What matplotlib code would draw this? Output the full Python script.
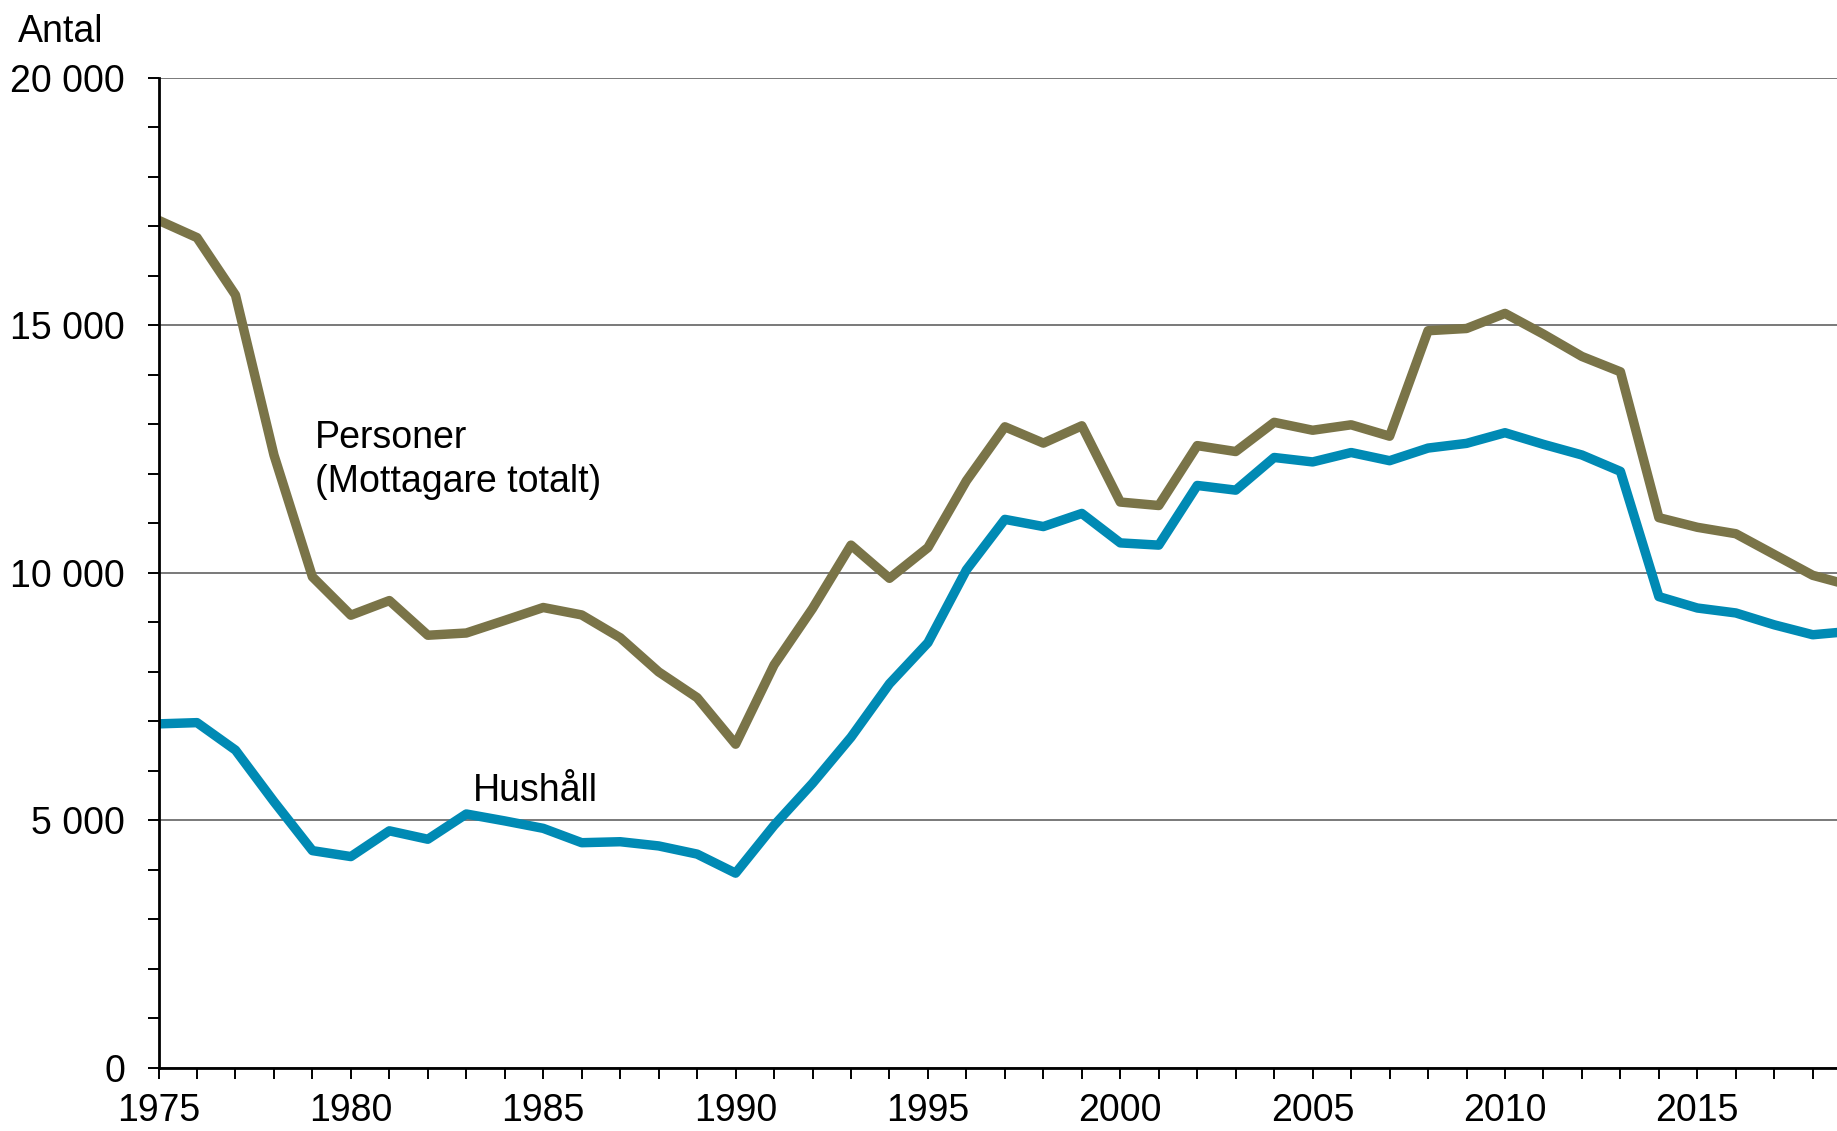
import matplotlib.pyplot as plt
from matplotlib.ticker import MultipleLocator, FuncFormatter

plt.rcParams['font.family'] = ['Liberation Sans', 'DejaVu Sans']

years = list(range(1975, 2020))

personer = [17120, 16770, 15610, 12380, 9920, 9145, 9440, 8740, 8785, 9040,
            9300, 9150, 8690, 8000, 7480, 6540, 8140, 9280, 10560, 9890,
            10510, 11860, 12950, 12620, 12970, 11430, 11360, 12570, 12450, 13040,
            12880, 12990, 12760, 14890, 14935, 15240, 14820, 14370, 14060, 11115,
            10920, 10790, 10370, 9950, 9740]

hushall = [6950, 6975, 6420, 5380, 4390, 4270, 4790, 4620, 5130, 4990,
           4840, 4550, 4570, 4485, 4320, 3935, 4900, 5750, 6680, 7760,
           8590, 10060, 11080, 10935, 11200, 10605, 10560, 11765, 11670, 12330,
           12240, 12430, 12265, 12520, 12615, 12830, 12595, 12380, 12050, 9520,
           9290, 9190, 8950, 8750, 8820]

olive = '#7a7448'
blue = '#008ab4'
fs = 27

fig = plt.figure(figsize=(18.37, 11.31), dpi=100)
ax = fig.add_axes([0.0863, 0.0557, 1 - 0.0863, 0.9313 - 0.0557])

ax.plot(years, personer, color=olive, lw=6.8, solid_joinstyle='round', zorder=3)
ax.plot(years, hushall, color=blue, lw=6.8, solid_joinstyle='round', zorder=3)

ax.set_xlim(1975, 2018.63)
ax.set_ylim(0, 20000)

ax.yaxis.set_major_locator(MultipleLocator(5000))
ax.yaxis.set_minor_locator(MultipleLocator(1000))
ax.xaxis.set_major_locator(MultipleLocator(5))
ax.xaxis.set_minor_locator(MultipleLocator(1))
ax.yaxis.set_major_formatter(FuncFormatter(lambda v, p: f"{v:,.0f}".replace(',', ' ')))

ax.grid(axis='y', which='major', color='#555555', lw=1.1, zorder=1)

for s in ['top', 'right']:
    ax.spines[s].set_visible(False)
for s in ['left', 'bottom']:
    ax.spines[s].set_linewidth(2.0)
    ax.spines[s].set_zorder(4)

ax.tick_params(axis='both', which='both', direction='out', length=8, width=1.4,
               labelsize=fs, color='black')
ax.tick_params(axis='y', which='major', pad=16)
ax.tick_params(axis='x', which='major', pad=10)

ax.text(1979.06, 12525, 'Personer', fontsize=fs, va='baseline', ha='left')
ax.text(1979.06, 11636, '(Mottagare totalt)', fontsize=fs, va='baseline', ha='left')
ax.text(1983.17, 5400, 'Hushåll', fontsize=fs, va='baseline', ha='left')

fig.text(18 / 1837, 1 - 42 / 1131, 'Antal', fontsize=fs, va='baseline', ha='left')

fig.savefig('out.png', dpi=100)
